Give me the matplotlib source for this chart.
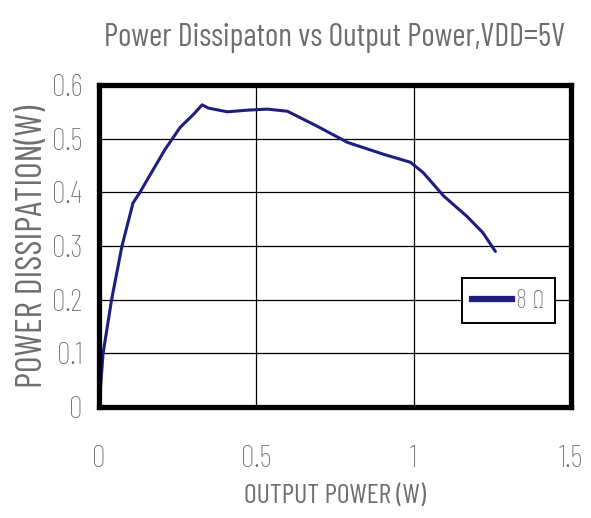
import matplotlib
matplotlib.use("Agg")
import matplotlib.pyplot as plt
from matplotlib.lines import Line2D

# values (8 ohm load, VDD=5V)
output_power = [0, 0.013, 0.04, 0.073, 0.108, 0.13, 0.21, 0.258, 0.30, 0.328, 0.347, 0.408,
                0.47, 0.535, 0.599, 0.694, 0.79, 0.904, 0.99, 1.03, 1.096, 1.17, 1.22, 1.26]
dissipation = [0, 0.1, 0.2, 0.3, 0.38, 0.4, 0.48, 0.521, 0.545, 0.563, 0.557, 0.550,
               0.553, 0.555, 0.551, 0.523, 0.493, 0.471, 0.456, 0.437, 0.393, 0.355, 0.325, 0.29]
x_ticks = [0, 0.5, 1, 1.5]
x_tick_labels = ["0", "0.5", "1", "1.5"]
y_ticks = [0, 0.1, 0.2, 0.3, 0.4, 0.5, 0.6]
y_tick_labels = ["0", "0.1", "0.2", "0.3", "0.4", "0.5", "0.6"]
series_label = "8 \u03a9"

plt.rcParams["font.family"] = ["Barlow Condensed", "DejaVu Sans"]
plt.rcParams["font.weight"] = "light"
text_color = "#6e6e6e"
line_color = "#1e1e80"

fig = plt.figure(figsize=(5.91, 5.18), dpi=100)
ax = fig.add_axes([0.1675, 0.214, 0.7985, 0.622])

ax.plot(output_power, dissipation, color=line_color, lw=2.2, solid_capstyle="round",
        solid_joinstyle="round", zorder=3)

ax.set_xlim(0, 1.5)
ax.set_ylim(0, 0.6)
ax.set_xticks(x_ticks)
ax.set_xticklabels(x_tick_labels)
ax.set_yticks(y_ticks)
ax.set_yticklabels(y_tick_labels)
ax.tick_params(length=0, labelsize=22, labelcolor=text_color)
ax.tick_params(axis="x", pad=27)
ax.tick_params(axis="y", pad=12)

ax.grid(True, color="black", lw=0.9)
for spine in ax.spines.values():
    spine.set_linewidth(3.8)
    spine.set_color("black")
    spine.set_zorder(5)

ax.set_title("Power Dissipaton vs Output Power,VDD=5V", fontsize=23, color=text_color, pad=28)
ax.set_xlabel("OUTPUT POWER (W)", fontsize=20, color=text_color, labelpad=8)
ax.set_ylabel("POWER DISSIPATION(W)", fontsize=26, color=text_color, labelpad=2)

handle = Line2D([], [], color=line_color, lw=4.5)
leg = ax.legend([handle], [series_label], loc="upper right", bbox_to_anchor=(0.966, 0.40),
                borderaxespad=0, fancybox=False, framealpha=1, edgecolor="black", fontsize=19,
                handlelength=1.5, handletextpad=0.15, borderpad=0.4, labelcolor=text_color)
leg.get_frame().set_linewidth(1.4)

fig.savefig("out.png", dpi=100)
